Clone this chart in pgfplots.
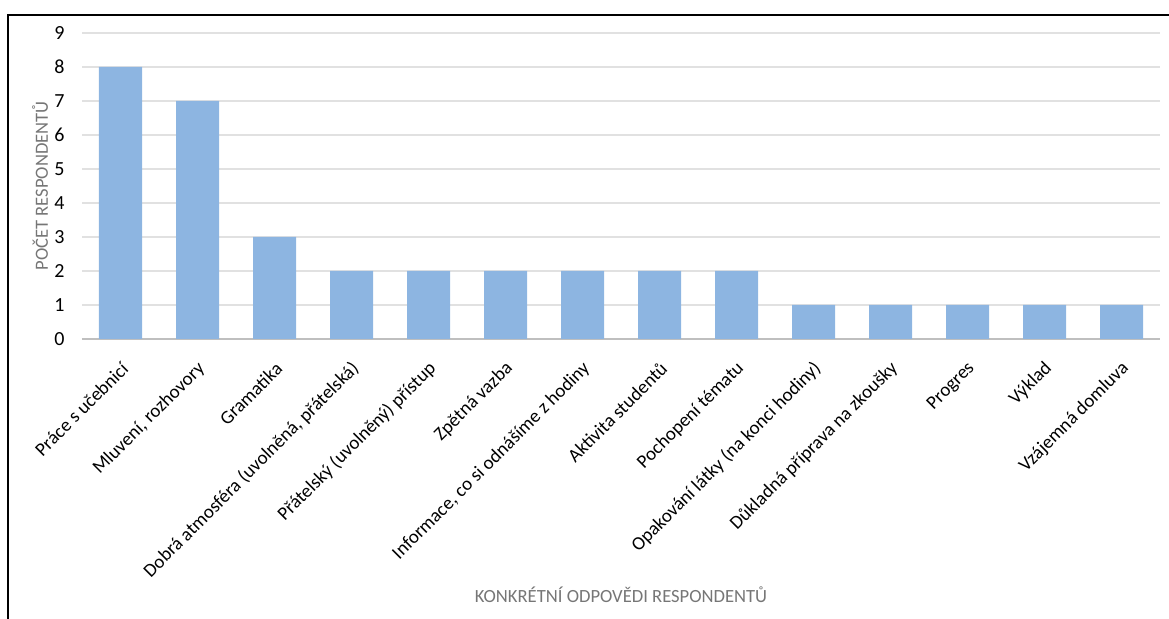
\documentclass[border=0pt]{standalone}
\usepackage{fontspec}
\setmainfont{Carlito}
\usepackage{pgfplots}
\pgfplotsset{compat=1.18}
\definecolor{barblue}{RGB}{141,181,225}
\definecolor{gridgray}{RGB}{225,225,225}
\definecolor{axisgray}{RGB}{191,191,191}
\definecolor{titlegray}{RGB}{118,118,118}
\begin{document}
\begin{tikzpicture}[x=1pt,y=1pt]
\useasboundingbox (0,0) rectangle (584.5,309.5);
\draw[black, line width=1pt] (4,0) -- (4,302) -- (584.5,302);
\begin{axis}[
  at={(41pt,140pt)}, anchor=south west,
  width=539pt, height=153pt, scale only axis,
  xmin=-0.5, xmax=13.5, ymin=0, ymax=9,
  ybar, bar width=21.5pt,
  ytick={0,...,9},
  xtick={0,...,13},
  xticklabels={Práce s učebnicí,{Mluvení, rozhovory},Gramatika,{Dobrá atmosféra (uvolněná, přátelská)},Přátelský (uvolněný) přístup,Zpětná vazba,{Informace, co si odnášíme z hodiny},Aktivita studentů,Pochopení tématu,Opakování látky (na konci hodiny),Důkladná příprava na zkoušky,Progres,Výklad,Vzájemná domluva},
  ymajorgrids, grid style={gridgray, line width=0.6pt},
  axis x line=bottom, axis y line=left,
  axis line style={-},
  x axis line style={axisgray, line width=1pt},
  y axis line style={draw=none},
  major tick length=0pt,
  /pgf/number format/assume math mode=true,
  yticklabel style={font=\fontsize{10}{12}\selectfont, anchor=east, inner sep=0pt, xshift=-8.5pt},
  xticklabel style={font=\fontsize{9.5}{11}\selectfont, xshift=3pt, yshift=-12.5pt, rotate=45, anchor=east, inner sep=1pt},
  xlabel={KONKRÉTNÍ ODPOVĚDI RESPONDENTŮ},
  ylabel={POČET RESPONDENTŮ},
  xlabel style={font=\fontsize{9.3}{11}\selectfont, text=titlegray, at={(rel axis cs:0.5,0)}, anchor=center, yshift=-128pt},
  ylabel style={font=\fontsize{9.3}{11}\selectfont, text=titlegray, at={(rel axis cs:0,0.5)}, anchor=center, yshift=21pt},
]
\addplot[fill=barblue, draw=none] coordinates {(0,8)(1,7)(2,3)(3,2)(4,2)(5,2)(6,2)(7,2)(8,2)(9,1)(10,1)(11,1)(12,1)(13,1)};
\end{axis}
\end{tikzpicture}
\end{document}
